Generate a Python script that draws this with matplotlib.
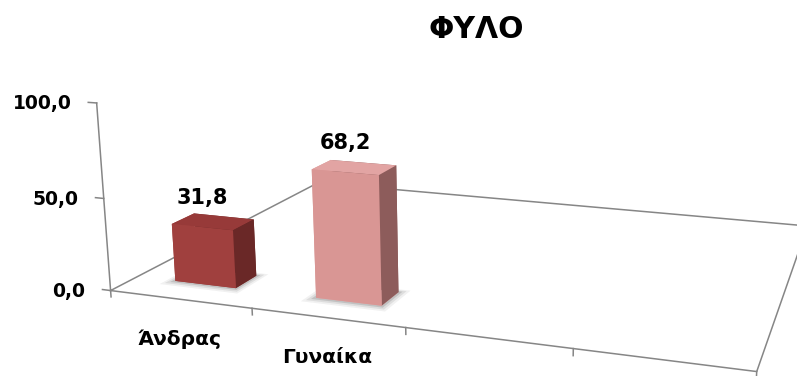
import numpy as np
import matplotlib
matplotlib.use('Agg')
import matplotlib.pyplot as plt
from mpl_toolkits.mplot3d.art3d import Poly3DCollection

plt.rcParams['font.family'] = ['DejaVu Sans']

categories = ['Άνδρας', 'Γυναίκα', '', '']
values = [31.8, 68.2]
value_labels = ['31,8', '68,2']
ticks = [0, 50, 100]
tick_labels = ['0,0', '50,0', '100,0']
title = 'ΦΥΛΟ'

front_colors = ['#a0403e', '#d99694']
top_colors = ['#973a39', '#e2a4a3']
side_colors = ['#6a2827', '#8d5c5b']
line_color = '#868686'

W, H = 797, 376
fig = plt.figure(figsize=(W / 100, H / 100), dpi=100)
ax = fig.add_axes([0, 0, 1, 1], projection='3d', computed_zorder=False)
ax.set_axis_off()

n = len(categories)

# camera / box set-up for the perspective floor
ax.view_init(elev=13.69, azim=-71.05)
ax.set_proj_type('persp', focal_length=np.exp(-1.145))
ax.set_box_aspect((1, np.exp(-0.3193), np.exp(-1.208)))
side, cx, cy = 735.3, 487.5, 170.6
k = 0.095 / 0.185
ax.set_position([(cx - k * side) / W, (H - cy - k * side) / H, side / W, side / H])

bar_w, bar_y0, bar_dy = 0.4398, 0.1016, 0.0899


def project(pt):
    M = ax.get_proj()
    v = M @ np.append(np.asarray(pt, float), 1.0)
    xy = ax.transData.transform([v[0] / v[3], v[1] / v[3]])
    return xy[0], H - xy[1]


# floor outline, value axis and tick marks
line_kw = dict(color=line_color, lw=1.1, zorder=1, clip_on=False)
ax.plot([0, n, n, 0, 0], [0, 0, 1, 1, 0], [0] * 5, **line_kw)
ax.plot([0, 0], [0, 0], [0, 100], **line_kw)
for t in ticks:
    ax.plot([0, -0.06], [0, 0], [t, t], **line_kw)
for i in range(n + 1):
    ax.plot([i, i], [0, 0], [0, -3.5], **line_kw)

# soft shadows on the floor round each bar foot
for i in range(len(values)):
    x0 = i + (1 - bar_w) / 2
    x1 = x0 + bar_w
    for g, a in [(0.06, 0.06), (0.04, 0.09), (0.02, 0.14)]:
        quad = [[(x0 - g, bar_y0 - g * 0.5, 0), (x1 + g, bar_y0 - g * 0.5, 0),
                 (x1 + g, bar_y0 + bar_dy + g * 0.3, 0), (x0 - g, bar_y0 + bar_dy + g * 0.3, 0)]]
        sh = Poly3DCollection(quad, facecolor=(0.1, 0.1, 0.1, a), edgecolor='none', zorder=2)
        sh.set_clip_on(False)
        ax.add_collection3d(sh)

# bars: faces are bottom, top, front, back, left, right
for i, v in enumerate(values):
    faces = [top_colors[i], top_colors[i], front_colors[i], side_colors[i], front_colors[i], side_colors[i]]
    col = ax.bar3d(i + (1 - bar_w) / 2, bar_y0, 0, bar_w, bar_dy, v, color=faces, shade=False, zorder=3)
    col.set_clip_on(False)

ax.set_xlim(0, n)
ax.set_ylim(0, 1)
ax.set_zlim(0, 100)


def put(pt, text, dx, dy, size, **kw):
    px, py = project(pt)
    fig.text((px + dx) / W, 1 - (py + dy) / H, text, fontsize=size, fontweight='bold', **kw)


for t, lab in zip(ticks, tick_labels):
    put([0, 0, t], lab, -25, 1, 13.5, ha='right', va='center')
for i, lab in enumerate(categories):
    if lab:
        put([i + 0.5, 0, 0], lab, 0, 40, 14.5, ha='center', va='center')
for i, (v, lab) in enumerate(zip(values, value_labels)):
    put([i + 0.5, bar_y0, v], lab, 0, -29, 15, ha='center', va='center')

fig.text(476.5 / W, 1 - 30 / H, title, fontsize=21.5, fontweight='bold', ha='center', va='center')

fig.savefig('out.png', dpi=100)
